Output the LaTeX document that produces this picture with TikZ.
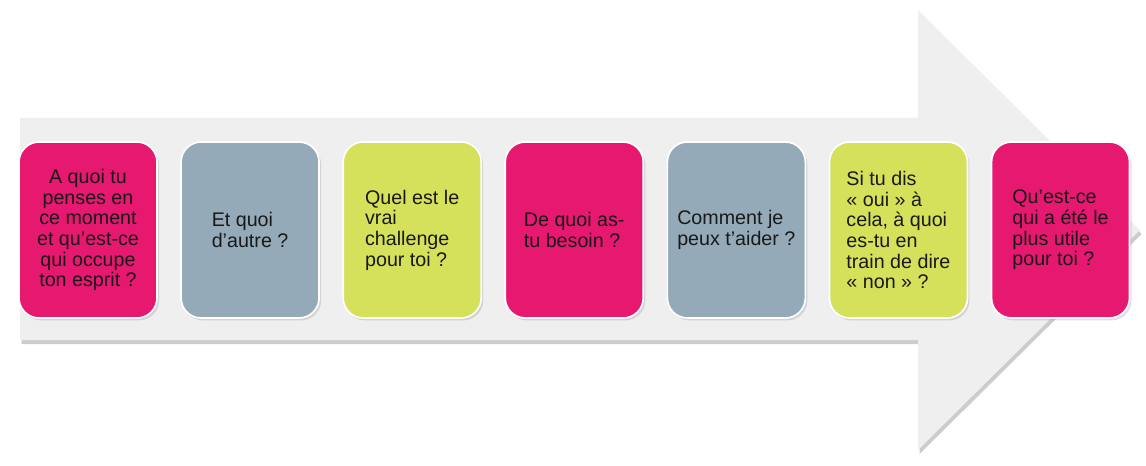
\documentclass[tikz,border=0pt]{standalone}
\usepackage{fontspec}
\setmainfont{Liberation Sans}
\usetikzlibrary{positioning,shadows}
\definecolor{qpink}{HTML}{E6186F}
\definecolor{qgrey}{HTML}{94AAB8}
\definecolor{qlime}{HTML}{D5E05B}
\definecolor{qarrow}{HTML}{EFEFEF}
\tikzset{
  card/.style={draw=white, line width=1.2pt, rounded corners=0.5cm,
    minimum width=3.45cm, minimum height=4.4cm, inner sep=2pt, align=left,
    font=\fontsize{14}{14.7}\selectfont, text=black!90,
    drop shadow={shadow xshift=0.05cm, shadow yshift=-0.06cm, opacity=0.25}},
}
\begin{document}
\begin{tikzpicture}
  \useasboundingbox (0,0) rectangle (28.65,11.625);

  \draw [draw=none, fill=qarrow, drop shadow={shadow xshift=0.04cm, shadow yshift=-0.1cm, opacity=0.4}]
    (0.5,8.675) -- (22.95,8.675) -- (22.95,11.375) -- (28.5,5.875)
    -- (22.95,0.375) -- (22.95,3.125) -- (0.5,3.125) -- cycle;

  \node [card, fill=qpink, align=center] (q1) at (2.2,5.875)
    {A quoi tu\\penses en\\ce moment\\et qu’est-ce\\qui occupe\\ton esprit ?};
  \node [card, fill=qgrey, right=0.56cm of q1] (q2) {Et quoi\\d’autre ?};
  \node [card, fill=qlime, right=0.56cm of q2] (q3) {Quel est le\\vrai\\challenge\\pour toi ?};
  \node [card, fill=qpink, right=0.56cm of q3] (q4) {De quoi as-\\tu besoin ?};
  \node [card, fill=qgrey, right=0.56cm of q4] (q5) {Comment je\\peux t’aider ?};
  \node [card, fill=qlime, right=0.56cm of q5] (q6)
    {Si tu dis\\« oui » à\\cela, à quoi\\es-tu en\\train de dire\\« non » ?};
  \node [card, fill=qpink, right=0.56cm of q6] (q7) {Qu’est-ce\\qui a été le\\plus utile\\pour toi ?};

\end{tikzpicture}
\end{document}
